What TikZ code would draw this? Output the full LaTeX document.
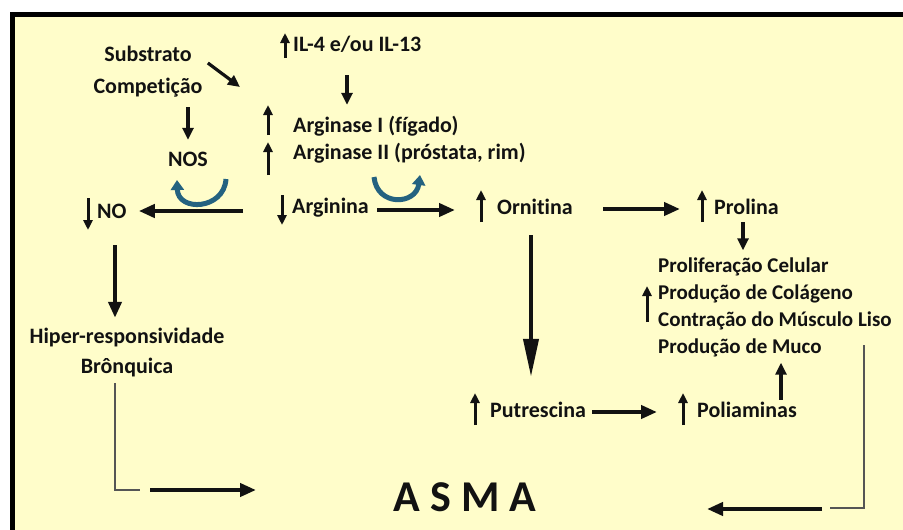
\documentclass[tikz,border=0pt]{standalone}
\usepackage{fontspec}
\setmainfont{Carlito}[Ligatures=NoCommon]
\usetikzlibrary{arrows.meta}
\definecolor{bg}{RGB}{255,253,202}
\definecolor{ink}{RGB}{18,18,18}
\definecolor{arcblue}{RGB}{36,98,128}
\definecolor{thingray}{RGB}{85,85,85}
\begin{document}
\begin{tikzpicture}[x=1pt,y=-1pt,
  lbl/.style={font=\bfseries\fontsize{22}{26}\selectfont, text=ink, inner sep=0pt, text height=15pt, text depth=5pt},
  lbltwo/.style={font=\bfseries\fontsize{21}{25}\selectfont, text=ink, inner sep=0pt, text height=14pt, text depth=5pt},
  arr/.style={draw=ink, line width=4pt, -{Triangle[length=16pt,width=13pt]}},
  arrm/.style={draw=ink, line width=3.2pt, -{Triangle[length=12pt,width=11pt]}},
  arrlong/.style={draw=ink, line width=4pt, -{Triangle[length=38pt,width=15pt]}},
  ind/.style={draw=ink, line width=3pt, -{Triangle[length=10pt,width=9pt]}},
  thinl/.style={draw=thingray, line width=2pt},
  arcarr/.style={draw=arcblue, line width=5pt, -{Triangle[length=10pt,width=13pt]}}
]
\useasboundingbox (0,0) rectangle (903,530);
\fill[white] (0,0) rectangle (903,530);
\fill[bg] (10,12) rectangle (903,530);
\draw[line width=5pt, black] (12.5,530) -- (12.5,14.5) -- (903,14.5);

% text nodes
\node[lbl] (sub) at (148,56) {Substrato};
\node[lbl] (comp) at (148,88) {Competição};
\node[lbl, anchor=west] (il) at (293,46) {IL-4 e/ou IL-13};
\node[lbl, anchor=west] (ag1) at (293,127) {Arginase I (fígado)};
\node[lbl, anchor=west] (ag2) at (293,154) {Arginase II (próstata, rim)};
\node[lbl] (nos) at (188,161) {NOS};
\node[lbl, anchor=west] (no) at (97,213) {NO};
\node[lbl, anchor=west] (arg) at (292,208) {Arginina};
\node[lbl, anchor=west] (orn) at (497,209) {Ornitina};
\node[lbl, anchor=west] (pro) at (714,209) {Prolina};
\node[lbltwo, anchor=west] (pl1) at (658,268) {Proliferação Celular};
\node[lbltwo, anchor=west] (pl2) at (658,295) {Produção de Colágeno};
\node[lbltwo, anchor=west] (pl3) at (658,322) {Contração do Músculo Liso};
\node[lbltwo, anchor=west] (pl4) at (658,349) {Produção de Muco};
\node[lbl, anchor=west] (put) at (490,412) {Putrescina};
\node[lbl, anchor=west] (pol) at (697,412) {Poliaminas};
\node[lbl] (hip) at (127,338) {Hiper-responsividade};
\node[lbl] (bro) at (127,368) {Brônquica};
\node[font=\bfseries\fontsize{44}{50}\selectfont, text=ink, inner sep=0pt] (asma) at (465,497) {A S M A};

% indicator arrows
\draw[ind] ([shift={(-8,12)}]il.west) -- ([shift={(-8,-13)}]il.west);
\draw[ind] ([shift={(-25,8)}]ag1.west) -- ([shift={(-25,-22)}]ag1.west);
\draw[ind] ([shift={(-25,21)}]ag2.west) -- ([shift={(-25,-12)}]ag2.west);
\draw[ind] ([shift={(-9,-15)}]no.west) -- ([shift={(-9,17)}]no.west);
\draw[ind] ([shift={(-10,-13)}]arg.west) -- ([shift={(-10,17)}]arg.west);
\draw[ind] ([shift={(-16,13)}]orn.west) -- ([shift={(-16,-19)}]orn.west);
\draw[ind] ([shift={(-12,13)}]pro.west) -- ([shift={(-12,-19)}]pro.west);
\draw[ind] ([shift={(-11,27)}]pl2.west) -- ([shift={(-11,-9)}]pl2.west);
\draw[ind] ([shift={(-15,13)}]put.west) -- ([shift={(-15,-19)}]put.west);
\draw[ind] ([shift={(-14,13)}]pol.west) -- ([shift={(-14,-19)}]pol.west);

% connectors
\coordinate (argz) at (240,87);
\draw[arrm] ([shift={(16,7)}]sub.east) -- (argz);
\draw[arrm] ([shift={(40,9)}]comp.south) -- ([shift={(0,-11)}]nos.north);
\draw[arrm] ([shift={(54,19)}]il.south west) -- ([shift={(54,-12)}]ag1.north west);
\draw[arr] ([shift={(-49,3)}]arg.west) -- ([shift={(12,-2)}]no.east);
\draw[arr] ([shift={(8,2)}]arg.east) -- ([shift={(-42,1)}]orn.west);
\draw[arr] ([shift={(30,0)}]orn.east) -- ([shift={(-34,0)}]pro.west);
\draw[arrm] ([shift={(29,3)}]pro.south west) -- ([shift={(85,-8)}]pl1.north west);
\draw[arrlong] ([shift={(34,16)}]orn.south west) -- ([shift={(41,-25)}]put.north west);
\draw[arr] ([shift={(6,0)}]put.east) -- ([shift={(-40,0)}]pol.west);
\draw[arrm] ([shift={(84,-2)}]pol.north west) -- ([shift={(123,4)}]pl4.south west);
\draw[arr] ([shift={(18,22)}]no.south west) -- ([shift={(-12,-10)}]hip.north);

% to ASMA (left)
\coordinate (b1) at (115,490);
\coordinate (b2) at (140,490);
\coordinate (b3) at (150,490);
\coordinate (b4) at (256,490);
\draw[thinl] ([shift={(-12,5)}]bro.south) -- (b1) -- (b2);
\draw[arr] (b3) -- (b4);

% to ASMA (right)
\coordinate (r0) at (864,345);
\coordinate (r1) at (864,508);
\coordinate (r2) at (830,508);
\coordinate (r3) at (822,509);
\coordinate (r4) at (707,509);
\draw[thinl] (r0) -- (r1) -- (r2);
\draw[arr] (r3) -- (r4);

% blue curved arrows
\draw[arcarr] (226,179) .. controls (224,210) and (178,212) .. (177,180);
\draw[arcarr] (374,177) .. controls (377,207) and (416,205) .. (420,175);
\end{tikzpicture}
\end{document}
